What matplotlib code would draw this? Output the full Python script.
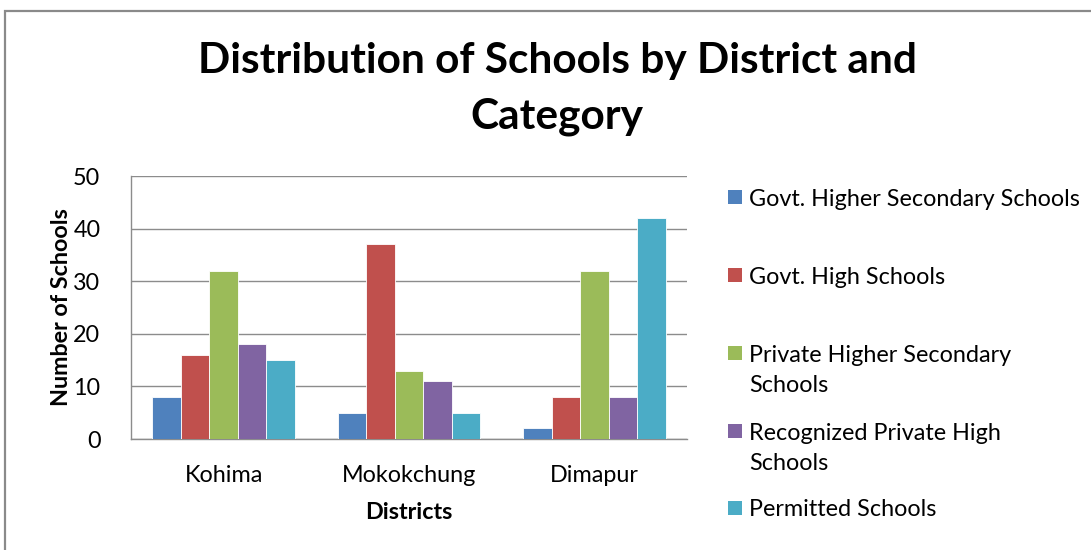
import matplotlib
matplotlib.use("Agg")
import matplotlib.pyplot as plt
from matplotlib.patches import Rectangle
import numpy as np

districts = ["Kohima", "Mokokchung", "Dimapur"]
series_names = [
    "Govt. Higher Secondary Schools",
    "Govt. High Schools",
    "Private Higher Secondary Schools",
    "Recognized Private High Schools",
    "Permitted Schools",
]
legend_labels = [
    "Govt. Higher Secondary Schools",
    "Govt. High Schools",
    "Private Higher Secondary\nSchools",
    "Recognized Private High\nSchools",
    "Permitted Schools",
]
govt_hss = [8, 5, 2]
govt_hs = [16, 37, 8]
private_hss = [32, 13, 32]
recognized_private_hs = [18, 11, 8]
permitted = [15, 5, 42]
series_values = [govt_hss, govt_hs, private_hss, recognized_private_hs, permitted]
colors = ["#4F81BD", "#C0504D", "#9BBB59", "#8064A2", "#4BACC6"]
y_ticks = [0, 10, 20, 30, 40, 50]

plt.rcParams["font.family"] = ["Lato", "DejaVu Sans"]

W, H = 1091, 550
fig = plt.figure(figsize=(W / 100, H / 100), dpi=100)

# outer chart frame
fig.patches.append(Rectangle((5 / W, -0.05), 1.2, 1 - 11 / H + 0.05,
                             transform=fig.transFigure, fill=False,
                             edgecolor="#8a8a8a", linewidth=1.6))

ax = fig.add_axes([131 / W, 1 - 439 / H, (687 - 131) / W, (439 - 176) / H])

n = len(series_values)
bw = 1 / (n + 1.5)
x = np.arange(len(districts))
for i, (vals, c) in enumerate(zip(series_values, colors)):
    offs = (i - (n - 1) / 2) * bw
    ax.bar(x + offs, vals, width=bw, color=c, edgecolor="white", linewidth=0.6,
           zorder=3)

FS = 16.8
ax.set_xlim(-0.5, len(districts) - 0.5)
ax.set_ylim(0, 50)
ax.set_yticks(y_ticks)
ax.set_xticks(x)
ax.set_xticklabels(districts)
ax.tick_params(axis="both", length=0, labelsize=FS, colors="#000000")
ax.tick_params(axis="y", pad=22)
ax.tick_params(axis="x", pad=19)
ax.grid(axis="y", color="#8c8c8c", linewidth=1.0, zorder=0)
for s in ["top", "right"]:
    ax.spines[s].set_visible(False)
for s in ["left", "bottom"]:
    ax.spines[s].set_color("#8c8c8c")
    ax.spines[s].set_linewidth(1.0)

ax.set_ylabel("Number of Schools", fontsize=FS, fontweight="bold", labelpad=1)
ax.set_xlabel("Districts", fontsize=FS, fontweight="bold", labelpad=11)

fig.text(557 / W, 1 - 61 / H, "Distribution of Schools by District and",
         ha="center", va="center", fontsize=30.5, fontweight="bold")
fig.text(557 / W, 1 - 117 / H, "Category",
         ha="center", va="center", fontsize=30.5, fontweight="bold")

# legend drawn as swatches and labels in figure pixels
legend_y = [197, 275, 353, 431, 508]
for lab, c, yy in zip(legend_labels, colors, legend_y):
    fig.patches.append(Rectangle((728 / W, 1 - (yy + 7) / H), 14 / W, 14 / H,
                                 transform=fig.transFigure, facecolor=c,
                                 edgecolor="none"))
    lines = lab.split("\n")
    for k, line in enumerate(lines):
        fig.text(749 / W, 1 - (yy + 30 * k) / H, line, ha="left",
                 va="center_baseline", fontsize=FS)

fig.savefig("out.png", dpi=100)
